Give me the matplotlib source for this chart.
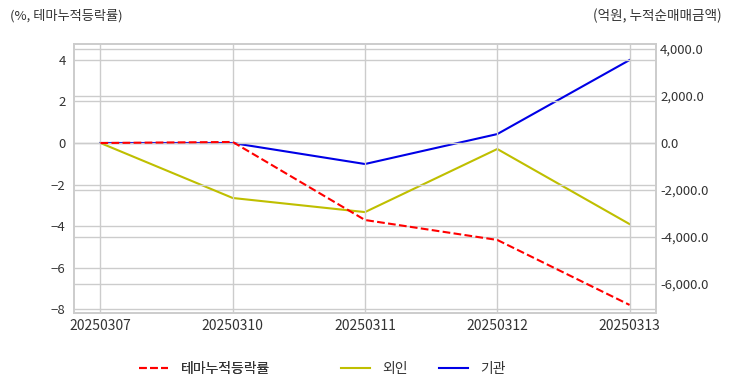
import matplotlib.pyplot as plt
from matplotlib.lines import Line2D

plt.rcParams['font.family'] = ['Noto Sans CJK KR', 'DejaVu Sans']

# data
dates = ['20250307', '20250310', '20250311', '20250312', '20250313']
theme_rate = [0.0, 0.05, -3.71, -4.67, -7.8]
foreign = [0.0, -2340.0, -2940.0, -255.0, -3450.0]
institution = [0.0, 0.0, -894.0, 380.0, 3530.0]

txt = '#333333'
gridc = '#cccccc'

fig = plt.figure(figsize=(7.32, 3.92), dpi=100)
ax = fig.add_axes([74 / 732, 1 - 313 / 392, (656 - 74) / 732, (313 - 44) / 392])
ax2 = ax.twinx()

x = list(range(len(dates)))
ax.plot(x, theme_rate, color='red', linestyle='--', linewidth=1.5, zorder=3)
ax2.plot(x, foreign, color='#bfbf00', linewidth=1.5)
ax2.plot(x, institution, color='#0000e6', linewidth=1.5)

ax.set_xlim(-0.2, 4.2)
ax.set_ylim(-8.19, 4.77)
ax2.set_ylim(-7234, 4213)
ax.set_yticks([4, 2, 0, -2, -4, -6, -8])
ax2.set_yticks([4000, 2000, 0, -2000, -4000, -6000])
ax2.set_yticklabels(['{:,.1f}'.format(v) for v in [4000, 2000, 0, -2000, -4000, -6000]])
ax.set_xticks(x)
ax.set_xticklabels(dates)

ax.grid(True, color=gridc, linewidth=1)
ax2.grid(True, axis='y', color=gridc, linewidth=1)
ax.set_axisbelow(True)
ax2.set_axisbelow(True)
for a in (ax, ax2):
    for s in a.spines.values():
        s.set_color(gridc)
        s.set_linewidth(1.2)
    a.tick_params(length=0, colors=txt, labelsize=9.5)
ax.tick_params(axis='x', labelsize=10, pad=4)
ax.tick_params(axis='y', pad=6)
ax2.tick_params(axis='y', pad=3)
# keep red line on top of twin axes
ax.set_zorder(ax2.get_zorder() + 1)
ax.patch.set_visible(False)

fig.text(10 / 732, 1 - 16 / 392, '(%, 테마누적등락률)', fontsize=9.5, color=txt, va='center', ha='left')
fig.text(722 / 732, 1 - 16 / 392, '(억원, 누적순매매금액)', fontsize=9.8, color=txt, va='center', ha='right')

h_theme = Line2D([], [], color='red', linestyle='--', linewidth=1.5)
h_for = Line2D([], [], color='#bfbf00', linewidth=1.5)
h_ins = Line2D([], [], color='#0000e6', linewidth=1.5)
leg_kw = dict(loc='center left', frameon=False, fontsize=10, labelcolor=txt, borderpad=0, borderaxespad=0,
              handlelength=2.1, handletextpad=0.9)
leg1 = fig.legend([h_theme], ['테마누적등락률'], bbox_to_anchor=(139 / 732, 1 - 369 / 392), **leg_kw)
fig.add_artist(leg1)
fig.legend([h_for, h_ins], ['외인', '기관'], bbox_to_anchor=(341 / 732, 1 - 369 / 392), ncol=2,
           columnspacing=2.2, **leg_kw)

fig.savefig('out.png', dpi=100)
